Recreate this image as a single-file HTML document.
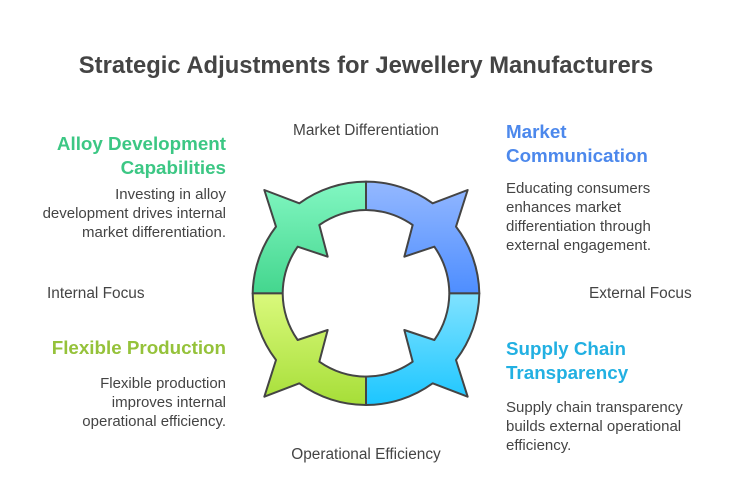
<!DOCTYPE html>
<html><head><meta charset="utf-8"><style>
body{margin:0;width:732px;height:480px;background:#fff;position:relative;overflow:hidden;font-family:"Liberation Sans",sans-serif;color:#444}
.a{position:absolute;white-space:nowrap}
.h{font-weight:bold;font-size:18.8px;line-height:24px}
.b{font-size:15px;line-height:19px}
.r{text-align:right}
.l{font-size:15.4px}
</style></head><body>
<div class="a" style="left:0;width:732px;top:52px;text-align:center;font-weight:bold;font-size:23.8px;color:#444">Strategic Adjustments for Jewellery Manufacturers</div>

<div class="a h r" style="right:506px;top:132px;color:#3cc784">Alloy Development<br>Capabilities</div>
<div class="a b r" style="right:506px;top:185px">Investing in alloy<br>development drives internal<br>market differentiation.</div>

<div class="a h" style="left:506px;top:120px;color:#4c88ec">Market<br>Communication</div>
<div class="a b" style="left:506px;top:179px">Educating consumers<br>enhances market<br>differentiation through<br>external engagement.</div>

<div class="a h r" style="right:506px;top:336px;color:#95c23a">Flexible Production</div>
<div class="a b r" style="right:506px;top:374px">Flexible production<br>improves internal<br>operational efficiency.</div>

<div class="a h" style="left:506px;top:337px;color:#22b0e2">Supply Chain<br>Transparency</div>
<div class="a b" style="left:506px;top:398px">Supply chain transparency<br>builds external operational<br>efficiency.</div>

<div class="a l" style="left:266px;width:200px;text-align:center;top:122px">Market Differentiation</div>
<div class="a l" style="left:266px;width:200px;text-align:center;top:446px">Operational Efficiency</div>
<div class="a l" style="left:47px;top:285px">Internal Focus</div>
<div class="a l" style="left:589px;top:285px">External Focus</div>

<svg class="a" style="left:246px;top:175px" width="240" height="240" viewBox="0 0 720 720">
<defs>
<linearGradient id="g1" x1="0" y1="0" x2="0" y2="1"><stop offset="0" stop-color="#82f7c2"/><stop offset="1" stop-color="#44d68e"/></linearGradient>
<linearGradient id="g2" x1="0" y1="0" x2="0" y2="1"><stop offset="0" stop-color="#94b8ff"/><stop offset="1" stop-color="#4e8eff"/></linearGradient>
<linearGradient id="g3" x1="0" y1="0" x2="0" y2="1"><stop offset="0" stop-color="#a6de38"/><stop offset="1" stop-color="#daf97c"/></linearGradient>
<linearGradient id="g4" x1="0" y1="0" x2="0" y2="1"><stop offset="0" stop-color="#1cc6ff"/><stop offset="1" stop-color="#80e2ff"/></linearGradient>
<path id="q" d="M360,20 A340,340 0 0 0 160,85 L55,45 L90,155 A340,340 0 0 0 20,355 L110,355 A250,250 0 0 1 155,215 L245,245 L220,150 A250,250 0 0 1 360,105 Z"/>
</defs>
<g stroke="#444" stroke-width="6" stroke-linejoin="round">
<use href="#q" fill="url(#g1)"/>
<use href="#q" fill="url(#g2)" transform="translate(720,0) scale(-1,1)"/>
<use href="#q" fill="url(#g3)" transform="translate(0,710) scale(1,-1)"/>
<use href="#q" fill="url(#g4)" transform="translate(720,710) scale(-1,-1)"/>
</g>
</svg>
</body></html>
